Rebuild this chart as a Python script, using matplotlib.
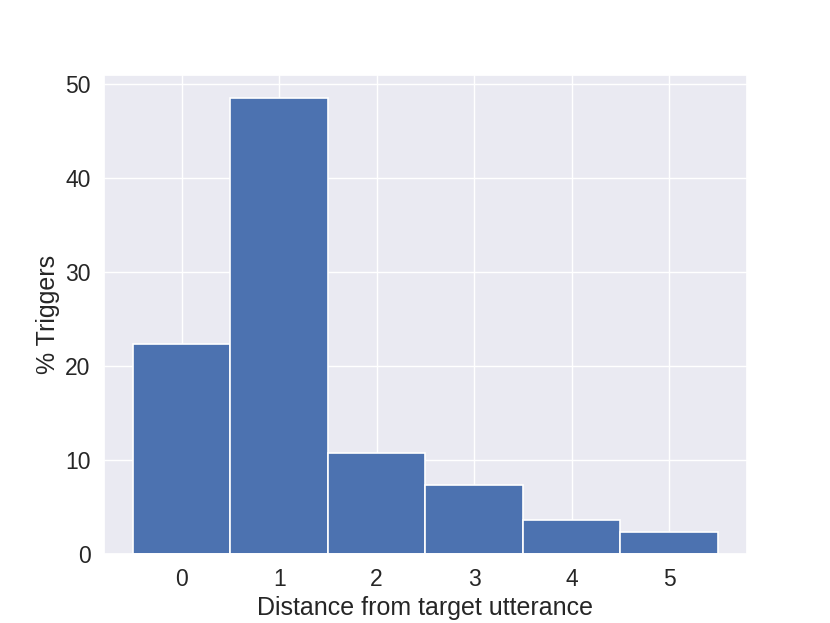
import numpy as np
import matplotlib
matplotlib.use("Agg")
import matplotlib.pyplot as plt
import seaborn as sns

# distance from target utterance -> % of triggers
distances = [0, 1, 2, 3, 4, 5]
pct_triggers = [22.4, 48.6, 10.8, 7.4, 3.7, 2.4]

sns.set_theme(style="darkgrid", font_scale=1.5)
plt.rcParams['font.family'] = ['Liberation Sans', 'DejaVu Sans']

fig, ax = plt.subplots(figsize=(8.3, 6.23), dpi=100)
ax.bar(distances, pct_triggers, width=1.0, color="#4C72B0", edgecolor="white", linewidth=1.2)
ax.set_xticks(distances)
ax.set_xlabel("Distance from target utterance")
ax.set_ylabel("% Triggers")

fig.savefig("out.png", dpi=100)
